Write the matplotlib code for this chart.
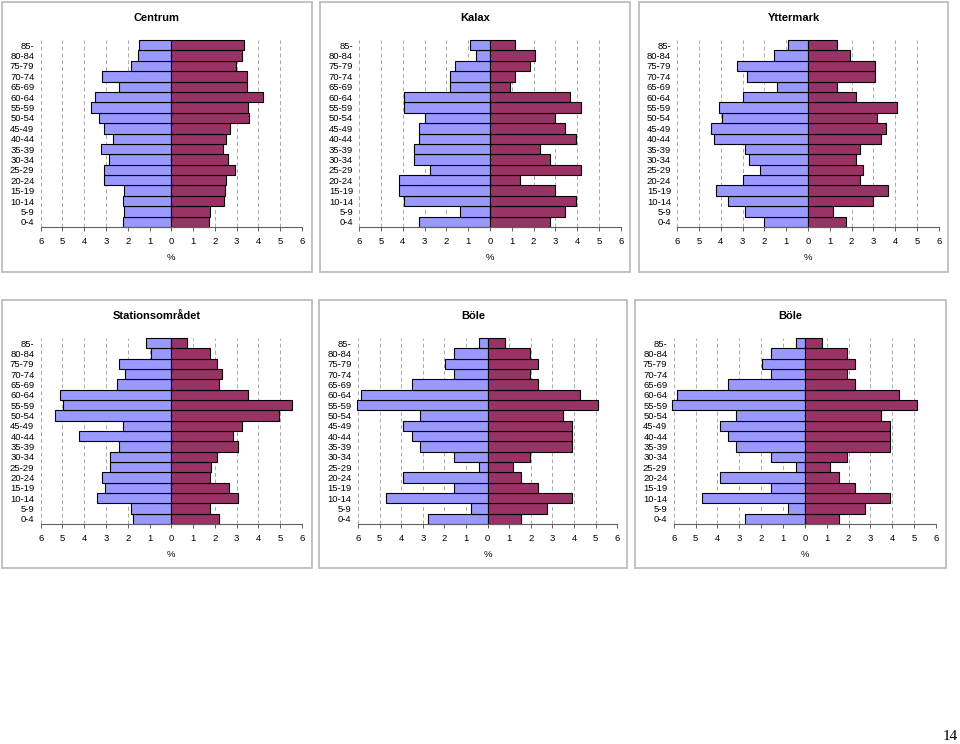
import matplotlib
matplotlib.use("Agg")
import matplotlib.pyplot as plt
from matplotlib.patches import Rectangle

plt.rcParams['font.family'] = ['Liberation Sans', 'DejaVu Sans']

# age groups, bottom up
ages = ['0-4', '5-9', '10-14', '15-19', '20-24', '25-29', '30-34', '35-39', '40-44',
        '45-49', '50-54', '55-59', '60-64', '65-69', '70-74', '75-79', '80-84', '85-']

# percent per age group (men left, women right), bottom up
centrum_men = [2.24, 2.17, 2.21, 2.17, 3.11, 3.11, 2.85, 3.25, 2.68, 3.11, 3.32, 3.71, 3.49, 2.42, 3.19, 1.87, 1.55, 1.47]
centrum_women = [1.73, 1.76, 2.44, 2.47, 2.50, 2.94, 2.60, 2.36, 2.50, 2.70, 3.55, 3.52, 4.23, 3.49, 3.49, 2.96, 3.26, 3.32]

kalax_men = [3.25, 1.38, 3.95, 4.18, 4.18, 2.76, 3.48, 3.48, 3.25, 3.25, 3.00, 3.95, 3.95, 1.85, 1.85, 1.62, 0.64, 0.92]
kalax_women = [2.76, 3.46, 3.94, 2.99, 1.36, 4.17, 2.76, 2.28, 3.94, 3.46, 2.99, 4.17, 3.69, 0.90, 1.13, 1.82, 2.05, 1.13]

yttermark_men = [2.01, 2.89, 3.66, 4.23, 2.97, 2.21, 2.70, 2.89, 4.33, 4.44, 3.97, 4.07, 2.97, 1.44, 2.82, 3.28, 1.55, 0.93]
yttermark_women = [1.76, 1.16, 2.99, 3.68, 2.40, 2.51, 2.22, 2.40, 3.37, 3.57, 3.19, 4.07, 2.22, 1.35, 3.08, 3.08, 1.91, 1.35]

station_men = [1.78, 1.87, 3.43, 3.06, 3.20, 2.83, 2.83, 2.39, 4.26, 2.24, 5.33, 4.96, 5.10, 2.48, 2.14, 2.39, 0.95, 1.18]
station_women = [2.21, 1.76, 3.05, 2.66, 1.76, 1.84, 2.11, 3.05, 2.82, 3.26, 4.93, 5.53, 3.51, 2.21, 2.34, 2.11, 1.76, 0.70]

bole_men = [2.75, 0.79, 4.69, 1.57, 3.90, 0.40, 1.57, 3.13, 3.52, 3.90, 3.13, 6.06, 5.85, 3.52, 1.57, 1.96, 1.57, 0.40]
bole_women = [1.56, 2.73, 3.90, 2.31, 1.56, 1.17, 1.94, 3.90, 3.90, 3.90, 3.50, 5.11, 4.29, 2.31, 1.94, 2.31, 1.94, 0.79]

ticks = list(range(-6, 7))
tick_labels = [str(abs(t)) for t in ticks]

W, H = 960, 744
fig = plt.figure(figsize=(W / 100, H / 100), dpi=100)


def box(x0, y0, x1, y1):
    # pixel box -> figure fraction
    return [x0 / W, 1 - y1 / H, (x1 - x0) / W, (y1 - y0) / H]


# title, men, women, panel frame (px), plot area (px)
panels = [
    ('Centrum', centrum_men, centrum_women, (2, 2, 312, 272), (40.7, 40, 302, 227)),
    ('Kalax', kalax_men, kalax_women, (320, 2, 630, 272), (359.3, 40, 620.7, 227)),
    ('Yttermark', yttermark_men, yttermark_women, (639, 2, 948, 272), (677.3, 40, 938.7, 227)),
    ('Stationsområdet', station_men, station_women, (2, 300, 312, 568), (40.7, 338, 302, 524)),
    ('Böle', bole_men, bole_women, (319, 300, 627, 568), (358, 338, 617.3, 524)),
    ('Böle', bole_men, bole_women, (635, 300, 946, 568), (673.7, 338, 936, 524)),
]

for title, men, women, frame, area in panels:
    fx0, fy0, fx1, fy1 = frame
    fig.patches.append(Rectangle((fx0 / W, 1 - fy1 / H), (fx1 - fx0) / W, (fy1 - fy0) / H,
                                 transform=fig.transFigure, fill=False,
                                 edgecolor='#BDBDBD', linewidth=1.3))
    fig.text((fx0 + fx1) / 2 / W, 1 - (fy0 + 16) / H, title, ha='center', va='center',
             fontsize=8, fontweight='bold')

    ax = fig.add_axes(box(*area))
    y = list(range(len(ages)))
    for t in ticks:
        if t != 0:
            ax.axvline(t, color='#A8A8A8', linewidth=0.7, dashes=(4, 3), zorder=0)
    ax.barh(y, [-v for v in men], height=1.0, color='#9999FF', edgecolor='black',
            linewidth=0.8, zorder=2, clip_on=False)
    ax.barh(y, women, height=1.0, color='#993366', edgecolor='black',
            linewidth=0.8, zorder=2, clip_on=False)
    ax.set_xlim(-6, 6)
    ax.set_ylim(-0.5, len(ages) - 0.5)
    ax.set_yticks(y)
    ax.set_yticklabels(ages)
    ax.set_xticks(ticks)
    ax.set_xticklabels(tick_labels)
    ax.tick_params(axis='y', length=0, pad=4.5, labelsize=6.8)
    ax.tick_params(axis='x', length=3, width=0.7, pad=4, labelsize=6.8, color='#606060')
    for s in ['top', 'right', 'left']:
        ax.spines[s].set_visible(False)
    ax.spines['bottom'].set_color('#606060')
    ax.spines['bottom'].set_linewidth(0.8)
    ax.set_xlabel('%', fontsize=6.8, labelpad=5)
    ax.patch.set_alpha(0)

fig.text(950 / W, 1 - 736 / H, '14', ha='center', va='center', fontsize=11,
         family='Liberation Serif')

fig.savefig('out.png', dpi=100)
